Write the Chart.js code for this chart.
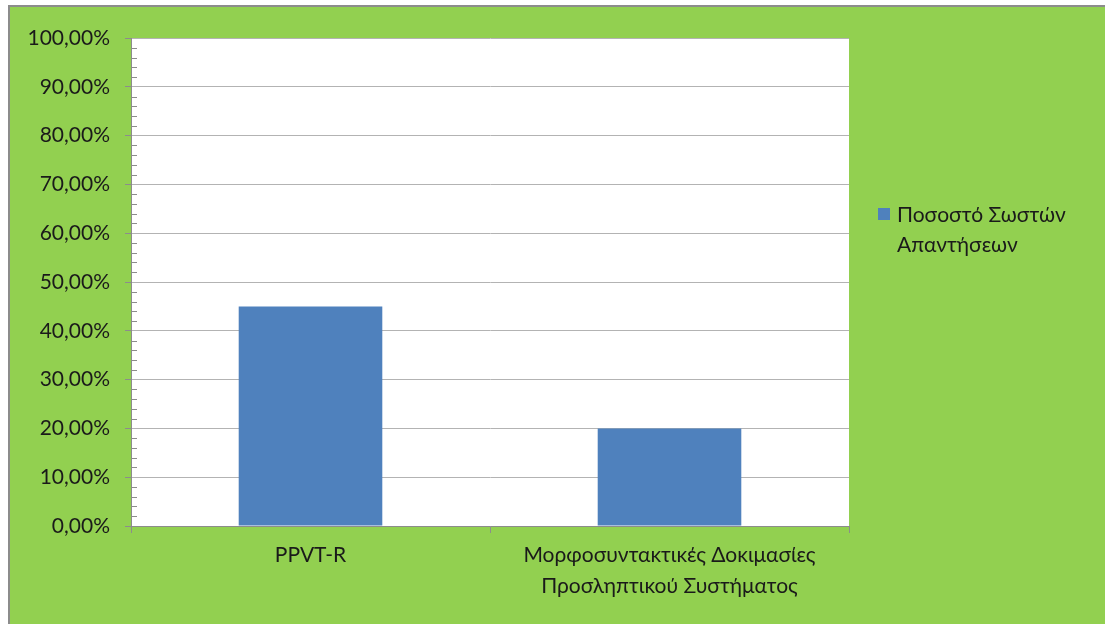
<!DOCTYPE html>
<html>
<head>
<meta charset="utf-8">
<script src="https://cdn.jsdelivr.net/npm/chart.js@4/dist/chart.umd.min.js"></script>
<style>
  html, body { margin: 0; padding: 0; background: #fff; }
  #wrap { width: 1105px; height: 624px; }
</style>
</head>
<body>
<div id="wrap"><canvas id="chart" width="1105" height="624"></canvas></div>
<script>
// Categories and values
const categories = ['PPVT-R', ['Μορφοσυντακτικές Δοκιμασίες', 'Προσληπτικού Συστήματος']];
const correctShare = [0.45, 0.20];
const seriesLabel = ['Ποσοστό Σωστών', 'Απαντήσεων'];

const FONT = 'Lato, "Open Sans", sans-serif';
const GREEN = '#92d050';
const BAR = '#4f81bd';

// green panel with grey frame behind everything
const background = {
  id: 'background',
  beforeDraw(chart) {
    const c = chart.ctx;
    c.save();
    c.fillStyle = '#ffffff';
    c.fillRect(0, 0, chart.width, chart.height);
    c.fillStyle = '#8c8c8c';
    c.fillRect(8, 5, chart.width - 8, chart.height - 5);
    c.fillStyle = GREEN;
    c.fillRect(10, 7, chart.width - 10, chart.height - 7);
    // white plot area
    const a = chart.chartArea;
    c.fillStyle = '#ffffff';
    c.fillRect(a.left, a.top, a.right - a.left, a.bottom - a.top);
    c.restore();
  }
};

// small ticks inside the axis between the major ones
const minorTicks = {
  id: 'minorTicks',
  afterDraw(chart) {
    const c = chart.ctx;
    const y = chart.scales.y;
    const x0 = chart.chartArea.left;
    c.save();
    c.strokeStyle = '#8c8c8c';
    c.lineWidth = 1;
    for (let v = 0; v <= 100; v += 2) {
      if (v % 10 === 0) continue;
      const py = Math.round(y.getPixelForValue(v / 100)) + 0.5;
      c.beginPath();
      c.moveTo(x0, py);
      c.lineTo(x0 + 6, py);
      c.stroke();
    }
    c.restore();
  }
};

// legend on the right, wrapped on two lines
const sideLegend = {
  id: 'sideLegend',
  afterDraw(chart) {
    const c = chart.ctx;
    c.save();
    c.fillStyle = chart.data.datasets[0].backgroundColor;
    c.fillRect(878, 208, 12, 12);
    c.fillStyle = '#1a1a1a';
    c.font = '21px ' + FONT;
    c.textBaseline = 'middle';
    c.textAlign = 'left';
    seriesLabel.forEach((t, i) => c.fillText(t, 897, 215 + i * 30));
    c.restore();
  }
};

new Chart(document.getElementById('chart'), {
  type: 'bar',
  data: {
    labels: categories,
    datasets: [{
      label: seriesLabel.join(' '),
      data: correctShare,
      backgroundColor: BAR,
      borderWidth: 0,
      categoryPercentage: 0.4,
      barPercentage: 1.0
    }]
  },
  options: {
    responsive: false,
    animation: false,
    layout: { padding: { left: 10, top: 38, right: 256, bottom: 0 } },
    plugins: {
      legend: { display: false },
      tooltip: { enabled: false }
    },
    scales: {
      x: {
        offset: true,
        grid: {
          offset: true,
          drawOnChartArea: false,
          tickLength: 7,
          color: '#8c8c8c'
        },
        border: { color: '#8c8c8c' },
        ticks: {
          color: '#1a1a1a',
          font: { family: FONT, size: 21, lineHeight: 1.48 },
          padding: 7,
          maxRotation: 0
        },
        afterFit(scale) { scale.height = 624 - 526; }
      },
      y: {
        min: 0,
        max: 1,
        grid: {
          color: '#b3b3b3',
          tickLength: 6,
          tickColor: '#8c8c8c'
        },
        border: { color: '#8c8c8c' },
        ticks: {
          stepSize: 0.1,
          color: '#1a1a1a',
          font: { family: FONT, size: 21 },
          padding: 15,
          callback: v => (v * 100).toFixed(2).replace('.', ',') + '%'
        },
        afterFit(scale) { scale.width = 131 - 10; }
      }
    }
  },
  plugins: [background, minorTicks, sideLegend]
});
</script>
</body>
</html>
